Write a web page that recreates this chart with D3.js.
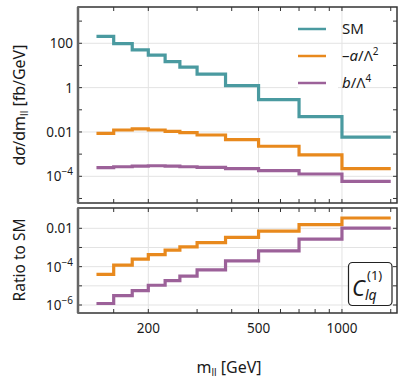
<!DOCTYPE html>
<html>
<head>
<meta charset="utf-8">
<script src="https://cdn.jsdelivr.net/npm/d3@7"></script>
<style>
body{margin:0;background:#fff;}
text{font-family:"Noto Sans",sans-serif;fill:#1a1a1a;}
</style>
</head>
<body>
<svg id="chart" width="407" height="381"></svg>
<script>
// bin edges in m_ll [GeV]
const binEdges = [130, 150, 175, 200, 230, 260, 300, 380, 500, 700, 1000, 1500];
// dsigma/dm_ll [fb/GeV]
const smVals   = [207, 96, 50, 29, 14.8, 8.5, 4.1, 1.22, 0.286, 0.049, 0.0059];
const linVals  = [0.0087, 0.0123, 0.0137, 0.0123, 0.0107, 0.0094, 0.0073, 0.0045, 0.00227, 0.00092, 0.000224];
const quadVals = [2.45e-4, 2.7e-4, 2.9e-4, 3.0e-4, 2.9e-4, 2.7e-4, 2.55e-4, 2.2e-4, 1.8e-4, 1.27e-4, 5.9e-5];
// ratio to SM
const linRatio  = [4.0e-5, 1.2e-4, 2.5e-4, 4.2e-4, 7.2e-4, 1.07e-3, 1.8e-3, 3.4e-3, 7.2e-3, 0.0155, 0.0345];
const quadRatio = [1.2e-6, 3.1e-6, 5.6e-6, 1.07e-5, 1.86e-5, 3.2e-5, 6.8e-5, 2.0e-4, 6.6e-4, 2.7e-3, 0.0102];

const xTicks = [150, 200, 300, 400, 500, 600, 700, 800, 900, 1000, 1500];
const xLabels = [200, 500, 1000];
const topTicks = [1e-5, 1e-4, 1e-3, 1e-2, 0.1, 1, 10, 100, 1000];
const topLabels = [1e-4, 1e-2, 1, 100];
const botTicks = [1e-6, 1e-5, 1e-4, 1e-3, 1e-2];
const botLabels = [1e-6, 1e-4, 1e-2];

const colors = {sm: '#4a9aa0', lin: '#e8891d', quad: '#9c6199'};

const svg = d3.select('#chart');
const X0 = 78, X1 = 397;
const x = d3.scaleLog().domain([111.5, 1580]).range([X0, X1]);
const yTop = d3.scaleLog().domain([Math.pow(10, -5.204), Math.pow(10, 3.637)]).range([203, 7]);
const yBot = d3.scaleLog().domain([Math.pow(10, -6.417), Math.pow(10, -0.941)]).range([313, 208]);

function fmtY(g, v) {
    const e = Math.round(Math.log10(v));
    if (v === 100) { g.text('100'); return; }
    if (v === 1) { g.text('1'); return; }
    if (v === 0.01) { g.text('0.01'); return; }
    g.text('10');
    g.append('tspan').attr('dy', -6).style('font-size', '10px').text('\u2212' + (-e));
}

function panel(y, yTicks, yLabels, gridY, series) {
    const [b, t] = y.range();
    const g = svg.append('g');
    // grid
    g.selectAll('line.gx').data(xLabels).join('line').attr('class', 'gx')
        .attr('x1', d => x(d)).attr('x2', d => x(d)).attr('y1', t).attr('y2', b)
        .attr('stroke', '#e3e3e3').attr('stroke-width', 1);
    g.selectAll('line.gy').data(gridY).join('line').attr('class', 'gy')
        .attr('x1', X0).attr('x2', X1).attr('y1', d => y(d)).attr('y2', d => y(d))
        .attr('stroke', '#e3e3e3').attr('stroke-width', 1);
    // step lines
    const line = d3.line().curve(d3.curveStepAfter).x(d => x(d[0])).y(d => y(d[1]));
    series.forEach(s => {
        const pts = binEdges.map((e, i) => [e, s.vals[Math.min(i, s.vals.length - 1)]]);
        g.append('path').attr('d', line(pts)).attr('fill', 'none')
            .attr('stroke', s.color).attr('stroke-width', 3.2);
    });
    // ticks, inward on all sides
    const tk = 4;
    g.selectAll('line.xb').data(xTicks).join('line').attr('class', 'xb')
        .attr('x1', d => x(d)).attr('x2', d => x(d)).attr('y1', b).attr('y2', b - tk)
        .attr('stroke', '#333').attr('stroke-width', 1);
    g.selectAll('line.xt').data(xTicks).join('line').attr('class', 'xt')
        .attr('x1', d => x(d)).attr('x2', d => x(d)).attr('y1', t).attr('y2', t + tk)
        .attr('stroke', '#333').attr('stroke-width', 1);
    g.selectAll('line.yl').data(yTicks).join('line').attr('class', 'yl')
        .attr('x1', X0).attr('x2', X0 + tk).attr('y1', d => y(d)).attr('y2', d => y(d))
        .attr('stroke', '#333').attr('stroke-width', 1);
    g.selectAll('line.yr').data(yTicks).join('line').attr('class', 'yr')
        .attr('x1', X1).attr('x2', X1 - tk).attr('y1', d => y(d)).attr('y2', d => y(d))
        .attr('stroke', '#333').attr('stroke-width', 1);
    g.selectAll('text.yt').data(yLabels).join('text').attr('class', 'yt')
        .attr('x', 73).attr('y', d => y(d) + 5).attr('text-anchor', 'end')
        .style('font-size', '13.5px')
        .each(function (d) { fmtY(d3.select(this), d); });
    // frame
    g.append('rect').attr('x', X0).attr('y', t).attr('width', X1 - X0).attr('height', b - t)
        .attr('fill', 'none').attr('stroke', '#333').attr('stroke-width', 1.5);
    g.append('line').attr('x1', X0).attr('x2', X0).attr('y1', t).attr('y2', b)
        .attr('stroke', '#666').attr('stroke-width', 2.5);
    return g;
}

panel(yTop, topTicks, topLabels, topLabels, [
    {vals: smVals, color: colors.sm},
    {vals: linVals, color: colors.lin},
    {vals: quadVals, color: colors.quad}
]);
panel(yBot, botTicks, botLabels, botTicks, [
    {vals: linRatio, color: colors.lin},
    {vals: quadRatio, color: colors.quad}
]);

// x tick labels
svg.selectAll('text.xl').data(xLabels).join('text').attr('class', 'xl')
    .attr('x', d => x(d)).attr('y', 333).attr('text-anchor', 'middle')
    .style('font-size', '13.5px').text(d => d);

// axis titles
const xt = svg.append('text').attr('x', 229).attr('y', 373).attr('text-anchor', 'middle').style('font-size', '16px');
xt.append('tspan').text('m');
xt.append('tspan').attr('dy', 3).style('font-size', '10px').text('ll');
xt.append('tspan').attr('dy', -3).text(' [GeV]');

const yt = svg.append('text').attr('transform', 'translate(25,105) rotate(-90)').attr('text-anchor', 'middle').style('font-size', '16px');
yt.append('tspan').text('d');
yt.append('tspan').style('font-style', 'italic').text('\u03c3');
yt.append('tspan').text('/dm');
yt.append('tspan').attr('dy', 3).style('font-size', '10px').text('ll');
yt.append('tspan').attr('dy', -3).text(' [fb/GeV]');

svg.append('text').attr('transform', 'translate(25,260) rotate(-90)').attr('text-anchor', 'middle')
    .style('font-size', '15.5px').text('Ratio to SM');

// legend
const legendItems = [
    {key: 'sm', y: 29},
    {key: 'lin', y: 56},
    {key: 'quad', y: 83}
];
const lg = svg.append('g');
legendItems.forEach(it => {
    lg.append('rect').attr('x', 298).attr('y', it.y - 7).attr('width', 40).attr('height', 14).attr('fill', '#fff');
    lg.append('line').attr('x1', 298).attr('x2', 326).attr('y1', it.y).attr('y2', it.y)
        .attr('stroke', colors[it.key]).attr('stroke-width', 2.5);
    const tx = lg.append('text').attr('x', 342).attr('y', it.y + 5).style('font-size', '15px');
    if (it.key === 'sm') tx.text('SM');
    if (it.key === 'lin') {
        tx.append('tspan').text('\u2013');
        tx.append('tspan').style('font-style', 'italic').text('a');
        tx.append('tspan').text('/\u039b');
        tx.append('tspan').attr('dy', -6).style('font-size', '10px').text('2');
    }
    if (it.key === 'quad') {
        tx.append('tspan').style('font-style', 'italic').text('b');
        tx.append('tspan').text('/\u039b');
        tx.append('tspan').attr('dy', -6).style('font-size', '10px').text('4');
    }
});

// operator label box
svg.append('rect').attr('x', 348.5).attr('y', 262.5).attr('width', 43.5).attr('height', 43)
    .attr('rx', 4).attr('fill', '#fff').attr('stroke', '#222').attr('stroke-width', 1.2);
const ct = svg.append('text').attr('x', 352).attr('y', 296).style('font-size', '22px');
ct.append('tspan').style('font-style', 'italic').text('C');
ct.append('tspan').attr('dy', 4).style('font-size', '14px').style('font-style', 'italic').text('lq');
ct.append('tspan').attr('x', 367).attr('dy', -20).style('font-size', '13px').text('(1)');
</script>
</body>
</html>
